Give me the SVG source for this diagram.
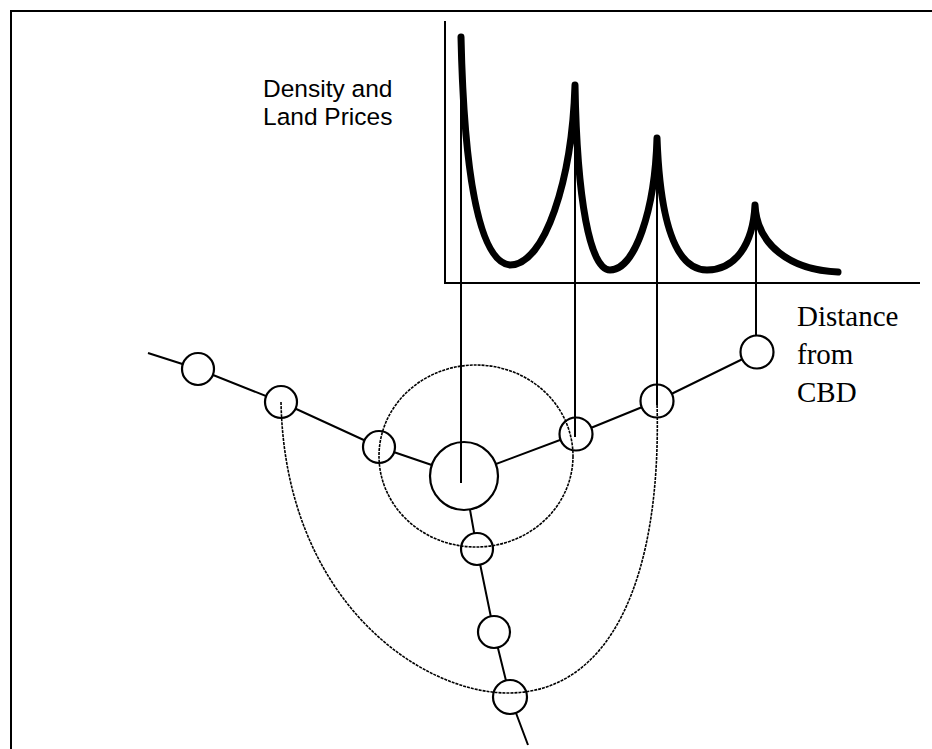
<svg xmlns="http://www.w3.org/2000/svg" width="932" height="749" viewBox="0 0 932 749">
<style>
.frame{fill:none;stroke:#000;stroke-width:2}
.axis{fill:none;stroke:#000;stroke-width:2}
.curve{fill:none;stroke:#000;stroke-width:7;stroke-linecap:round;stroke-linejoin:round}
.link{fill:none;stroke:#000;stroke-width:2}
.drop{fill:none;stroke:#000;stroke-width:2}
.dash{fill:none;stroke:#000;stroke-width:1.6;stroke-dasharray:3 1}
.node{fill:#fff;stroke:#000;stroke-width:2.2}
.sans{font-family:"Liberation Sans",Arial,sans-serif;font-size:24.5px;fill:#000}
.serif{font-family:"Liberation Serif","Times New Roman",serif;font-size:29px;fill:#000}
</style>
<rect width="932" height="749" fill="#fff"/>
<path class="frame" d="M11,760 V11 H940"/>
<g id="chart">
<path class="axis" d="M445,21 V283 H920"/>
<path class="curve" d="M461,37 C464,170 478,262 510,265 C545,265 572,180 575,85 C577,200 590,270 610,270 C635,270 655,210 657,138 C660,220 675,270 707,270 C735,270 753,245 755,205 C757,245 790,270 838,272"/>
<text class="sans" x="263" y="97">Density and</text>
<text class="sans" x="263" y="125">Land Prices</text>
<text class="serif" x="797" y="326">Distance</text>
<text class="serif" x="797" y="364">from</text>
<text class="serif" x="797" y="402">CBD</text>
</g>
<g id="connectors">
<polyline class="link" points="148,353 198,369 281,402 379,447 464,476"/>
<polyline class="link" points="464,476 576,434 657,401 757,352"/>
<polyline class="link" points="464,476 477,549 494,632 510,697 528,745"/>
</g>
<g id="nodes">
<circle id="cbd" class="node" cx="464" cy="476" r="34"/>
<circle id="w1" class="node" cx="198" cy="369" r="16"/>
<circle id="w2" class="node" cx="281" cy="402" r="16"/>
<circle id="w3" class="node" cx="379" cy="447" r="16"/>
<circle id="e1" class="node" cx="576" cy="434" r="16.5"/>
<circle id="e2" class="node" cx="657" cy="401" r="16.5"/>
<circle id="e3" class="node" cx="757" cy="352" r="16.5"/>
<circle id="s1" class="node" cx="477" cy="549" r="16"/>
<circle id="s2" class="node" cx="494" cy="632" r="16"/>
<circle id="s3" class="node" cx="510" cy="697" r="17"/>
</g>
<g id="drops">
<path class="drop" d="M461,40 V483"/>
<path class="drop" d="M575,95 V437"/>
<path class="drop" d="M657,150 V405"/>
<path class="drop" d="M756,215 V336"/>
</g>
<g id="rings">
<ellipse class="dash" cx="476" cy="456" rx="97" ry="91"/>
<path class="dash" d="M281,402 C285,600 420,693 508,693 C610,693 662,580 657,402"/>
</g>
</svg>
